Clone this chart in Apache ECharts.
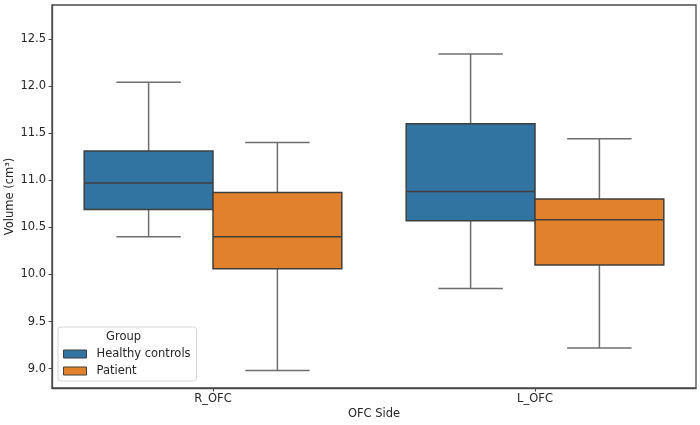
<!DOCTYPE html>
<html>
<head>
<meta charset="utf-8">
<script src="https://cdn.jsdelivr.net/npm/echarts@6/dist/echarts.min.js"></script>
<style>
  html, body { margin: 0; padding: 0; background: #fff; }
  #chart { width: 700px; height: 425px; }
</style>
</head>
<body>
<div id="chart"></div>
<script>
// categories on the x axis and the two groups
const categories = ['R_OFC', 'L_OFC']
const groups = ['Healthy controls', 'Patient']

// five-number summaries per category: [low whisker, Q1, median, Q3, high whisker]
const healthyStats = [
  [10.40, 10.69, 10.97, 11.31, 12.04],
  [9.85, 10.57, 10.88, 11.60, 12.34],
]
const patientStats = [
  [8.98, 10.06, 10.40, 10.87, 11.40],
  [9.22, 10.10, 10.58, 10.80, 11.44],
]

// y axis range and tick labels
const yMin = 8.795
const yMax = 12.86
const yTicks = [9.0, 9.5, 10.0, 10.5, 11.0, 11.5, 12.0, 12.5]

const colors = ['#3274a1', '#e1812c']
const edgeColor = '#3f3f3f'
const whiskerColor = '#6e6e6e'
const font = 'DejaVu Sans'

// 畫一個 seaborn 風格的箱形圖（鬚的端線為箱寬的一半）
function renderBox(params, api) {
  const cat = api.value(0)
  const band = api.size([1, 0])[0]
  const boxW = band * 0.4
  const shift = params.seriesIndex === 0 ? -boxW / 2 : boxW / 2
  const cx = api.coord([cat, api.value(3)])[0] + shift
  const yLow = api.coord([cat, api.value(1)])[1]
  const yQ1 = api.coord([cat, api.value(2)])[1]
  const yMed = api.coord([cat, api.value(3)])[1]
  const yQ3 = api.coord([cat, api.value(4)])[1]
  const yHigh = api.coord([cat, api.value(5)])[1]
  const capW = boxW / 2
  const color = colors[params.seriesIndex]
  const lineStyle = { stroke: whiskerColor, lineWidth: 1.5 }
  return {
    type: 'group',
    children: [
      { type: 'line', shape: { x1: cx, y1: yQ3, x2: cx, y2: yHigh }, style: lineStyle },
      { type: 'line', shape: { x1: cx, y1: yQ1, x2: cx, y2: yLow }, style: lineStyle },
      { type: 'line', shape: { x1: cx - capW / 2, y1: yHigh, x2: cx + capW / 2, y2: yHigh }, style: lineStyle },
      { type: 'line', shape: { x1: cx - capW / 2, y1: yLow, x2: cx + capW / 2, y2: yLow }, style: lineStyle },
      {
        type: 'rect',
        shape: { x: cx - boxW / 2, y: yQ3, width: boxW, height: yQ1 - yQ3 },
        style: { fill: color, stroke: edgeColor, lineWidth: 1.5 },
      },
      { type: 'line', shape: { x1: cx - boxW / 2, y1: yMed, x2: cx + boxW / 2, y2: yMed }, style: { stroke: edgeColor, lineWidth: 1.5 } },
    ],
  }
}

function toData(stats) {
  return categories.map((c, i) => [i].concat(stats[i]))
}

const chart = echarts.init(document.getElementById('chart'))

chart.setOption({
  animation: false,
  textStyle: { fontFamily: font },
  grid: {
    left: 52, right: 4, top: 5, bottom: 37,
    outerBoundsMode: 'none',
    containLabel: false,
    show: true, borderColor: '#4a4a4a', borderWidth: 1.3,
  },
  title: {
    text: 'Group',
    left: 106, top: 331,
    padding: 0,
    textStyle: { fontFamily: font, fontSize: 11.5, fontWeight: 'normal', color: '#262626' },
  },
  legend: {
    data: groups,
    orient: 'vertical',
    left: 58, top: 327,
    padding: [21, 6, 4, 5],
    itemWidth: 23, itemHeight: 8, itemGap: 5,
    backgroundColor: 'rgba(255,255,255,0.85)',
    borderColor: '#d6d6d6', borderWidth: 1, borderRadius: 3,
    icon: 'rect',
    itemStyle: { borderColor: edgeColor, borderWidth: 1 },
    textStyle: { fontFamily: font, fontSize: 11.5, color: '#262626', padding: [0, 0, 0, 5], lineHeight: 11 },
  },
  xAxis: {
    type: 'category',
    data: categories,
    boundaryGap: true,
    name: 'OFC Side',
    nameLocation: 'middle',
    nameGap: 20,
    nameMoveOverlap: false,
    nameTextStyle: { fontFamily: font, fontSize: 11.5, color: '#262626' },
    axisLine: { show: true, lineStyle: { color: '#4a4a4a', width: 1.3 } },
    axisTick: { show: true, alignWithLabel: true, length: 3.5, lineStyle: { color: '#4a4a4a' } },
    axisLabel: { fontSize: 11.5, color: '#262626', margin: 5 },
    splitLine: { show: false },
  },
  yAxis: {
    type: 'value',
    min: yMin,
    max: yMax,
    name: 'Volume (cm³)',
    nameLocation: 'middle',
    nameGap: 36,
    nameMoveOverlap: false,
    nameTextStyle: { fontFamily: font, fontSize: 11.5, color: '#262626' },
    axisLine: { show: true, lineStyle: { color: '#4a4a4a', width: 1.3 } },
    axisTick: { show: true, length: 3.5, customValues: yTicks, lineStyle: { color: '#4a4a4a' } },
    axisLabel: {
      fontSize: 11.5, color: '#262626', margin: 6,
      customValues: yTicks,
      formatter: v => v.toFixed(1),
    },
    splitLine: { show: false },
  },
  series: [
    {
      name: groups[0],
      type: 'custom',
      renderItem: renderBox,
      itemStyle: { color: colors[0], borderColor: edgeColor },
      encode: { x: 0, y: [1, 2, 3, 4, 5] },
      data: toData(healthyStats),
    },
    {
      name: groups[1],
      type: 'custom',
      renderItem: renderBox,
      itemStyle: { color: colors[1], borderColor: edgeColor },
      encode: { x: 0, y: [1, 2, 3, 4, 5] },
      data: toData(patientStats),
    },
  ],
})
</script>
</body>
</html>
